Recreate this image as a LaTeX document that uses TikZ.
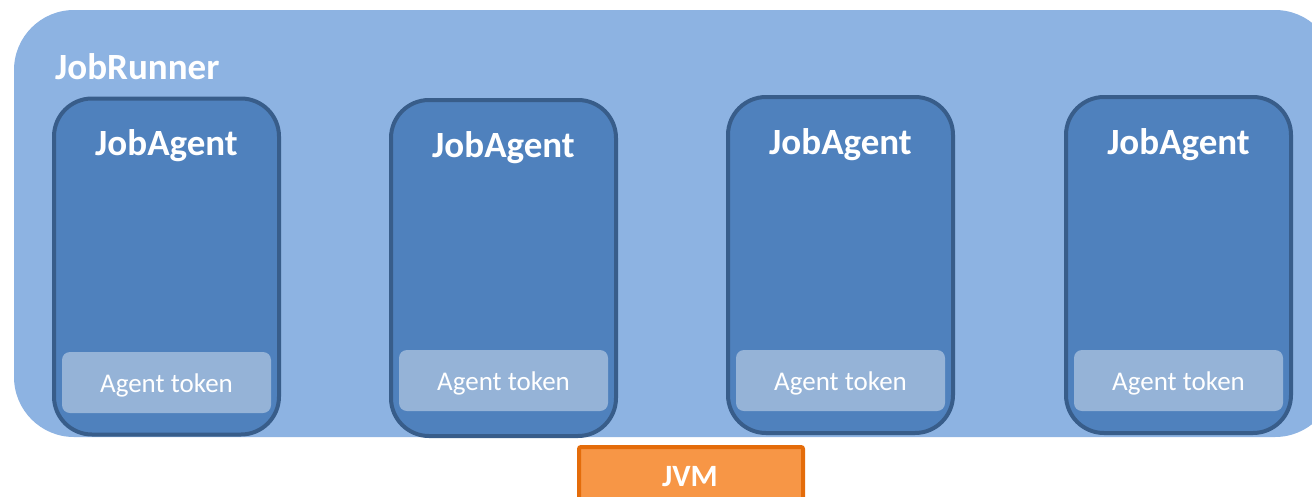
\documentclass[tikz,border=0pt]{standalone}
\usepackage{fontspec}
\setmainfont{Carlito}
\definecolor{runnerfill}{HTML}{8DB3E2}
\definecolor{agentfill}{HTML}{4F81BD}
\definecolor{agentline}{HTML}{385D8A}
\definecolor{tokenfill}{HTML}{95B3D7}
\definecolor{jvmfill}{HTML}{F79646}
\definecolor{jvmline}{HTML}{E46C0A}
\tikzstyle{runner_box}=[rectangle,
                        minimum width=1321pt,
                        minimum height=427pt,
                        fill=runnerfill,
                        rounded corners=60pt]
\tikzstyle{agent_box}=[rectangle,
                       minimum width=225pt,
                       minimum height=336pt,
                       draw=agentline,
                       line width=4pt,
                       fill=agentfill,
                       rounded corners=38pt]
\tikzstyle{token_box}=[rectangle,
                       minimum width=209pt,
                       minimum height=61pt,
                       fill=tokenfill,
                       rounded corners=8pt]
\tikzstyle{token_text}=[text=white,
                        font=\fontsize{27}{32}\selectfont,
                        inner sep=0pt]
\tikzstyle{jvm_box}=[rectangle,
                     minimum width=224pt,
                     minimum height=70pt,
                     draw=jvmline,
                     line width=4pt,
                     fill=jvmfill,
                     rounded corners=2pt]
\tikzstyle{big_title}=[text=white,
                       font=\bfseries\fontsize{37}{44}\selectfont,
                       inner sep=0pt]

\begin{document}
\begin{tikzpicture}[x=1pt, y=-1pt]
  \useasboundingbox (0,0) rectangle (1312,496);
  \clip (0,0) rectangle (1312,496);
  \node at (674.5, 223.5) (runner) [runner_box] {};
  \node at (55, 79) (runnertitle) [big_title, anchor=base west] {JobRunner};

  \foreach \i/\x/\y/\ty in {1/166.5/266.5/382.5, 2/503.5/268/380.5,
                             3/840.5/265/380.5, 4/1178.5/265/380.5} {
    \node at (\x, \y) (agent\i) [agent_box] {};
    \node at (\x, \y-111) (agenttitle\i) [big_title, anchor=base] {JobAgent};
    \node at (\x, \ty) (token\i) [token_box] {};
    \node at (\x, \ty+9.5) (tokentext\i) [token_text, anchor=base] {Agent token};
  }

  \node at (691, 445) (jvm) [jvm_box, anchor=north] {};
  \node at (690, 486) (jvmtext) [big_title, anchor=base,
        font=\bfseries\fontsize{31}{36}\selectfont] {JVM};
\end{tikzpicture}
\end{document}
